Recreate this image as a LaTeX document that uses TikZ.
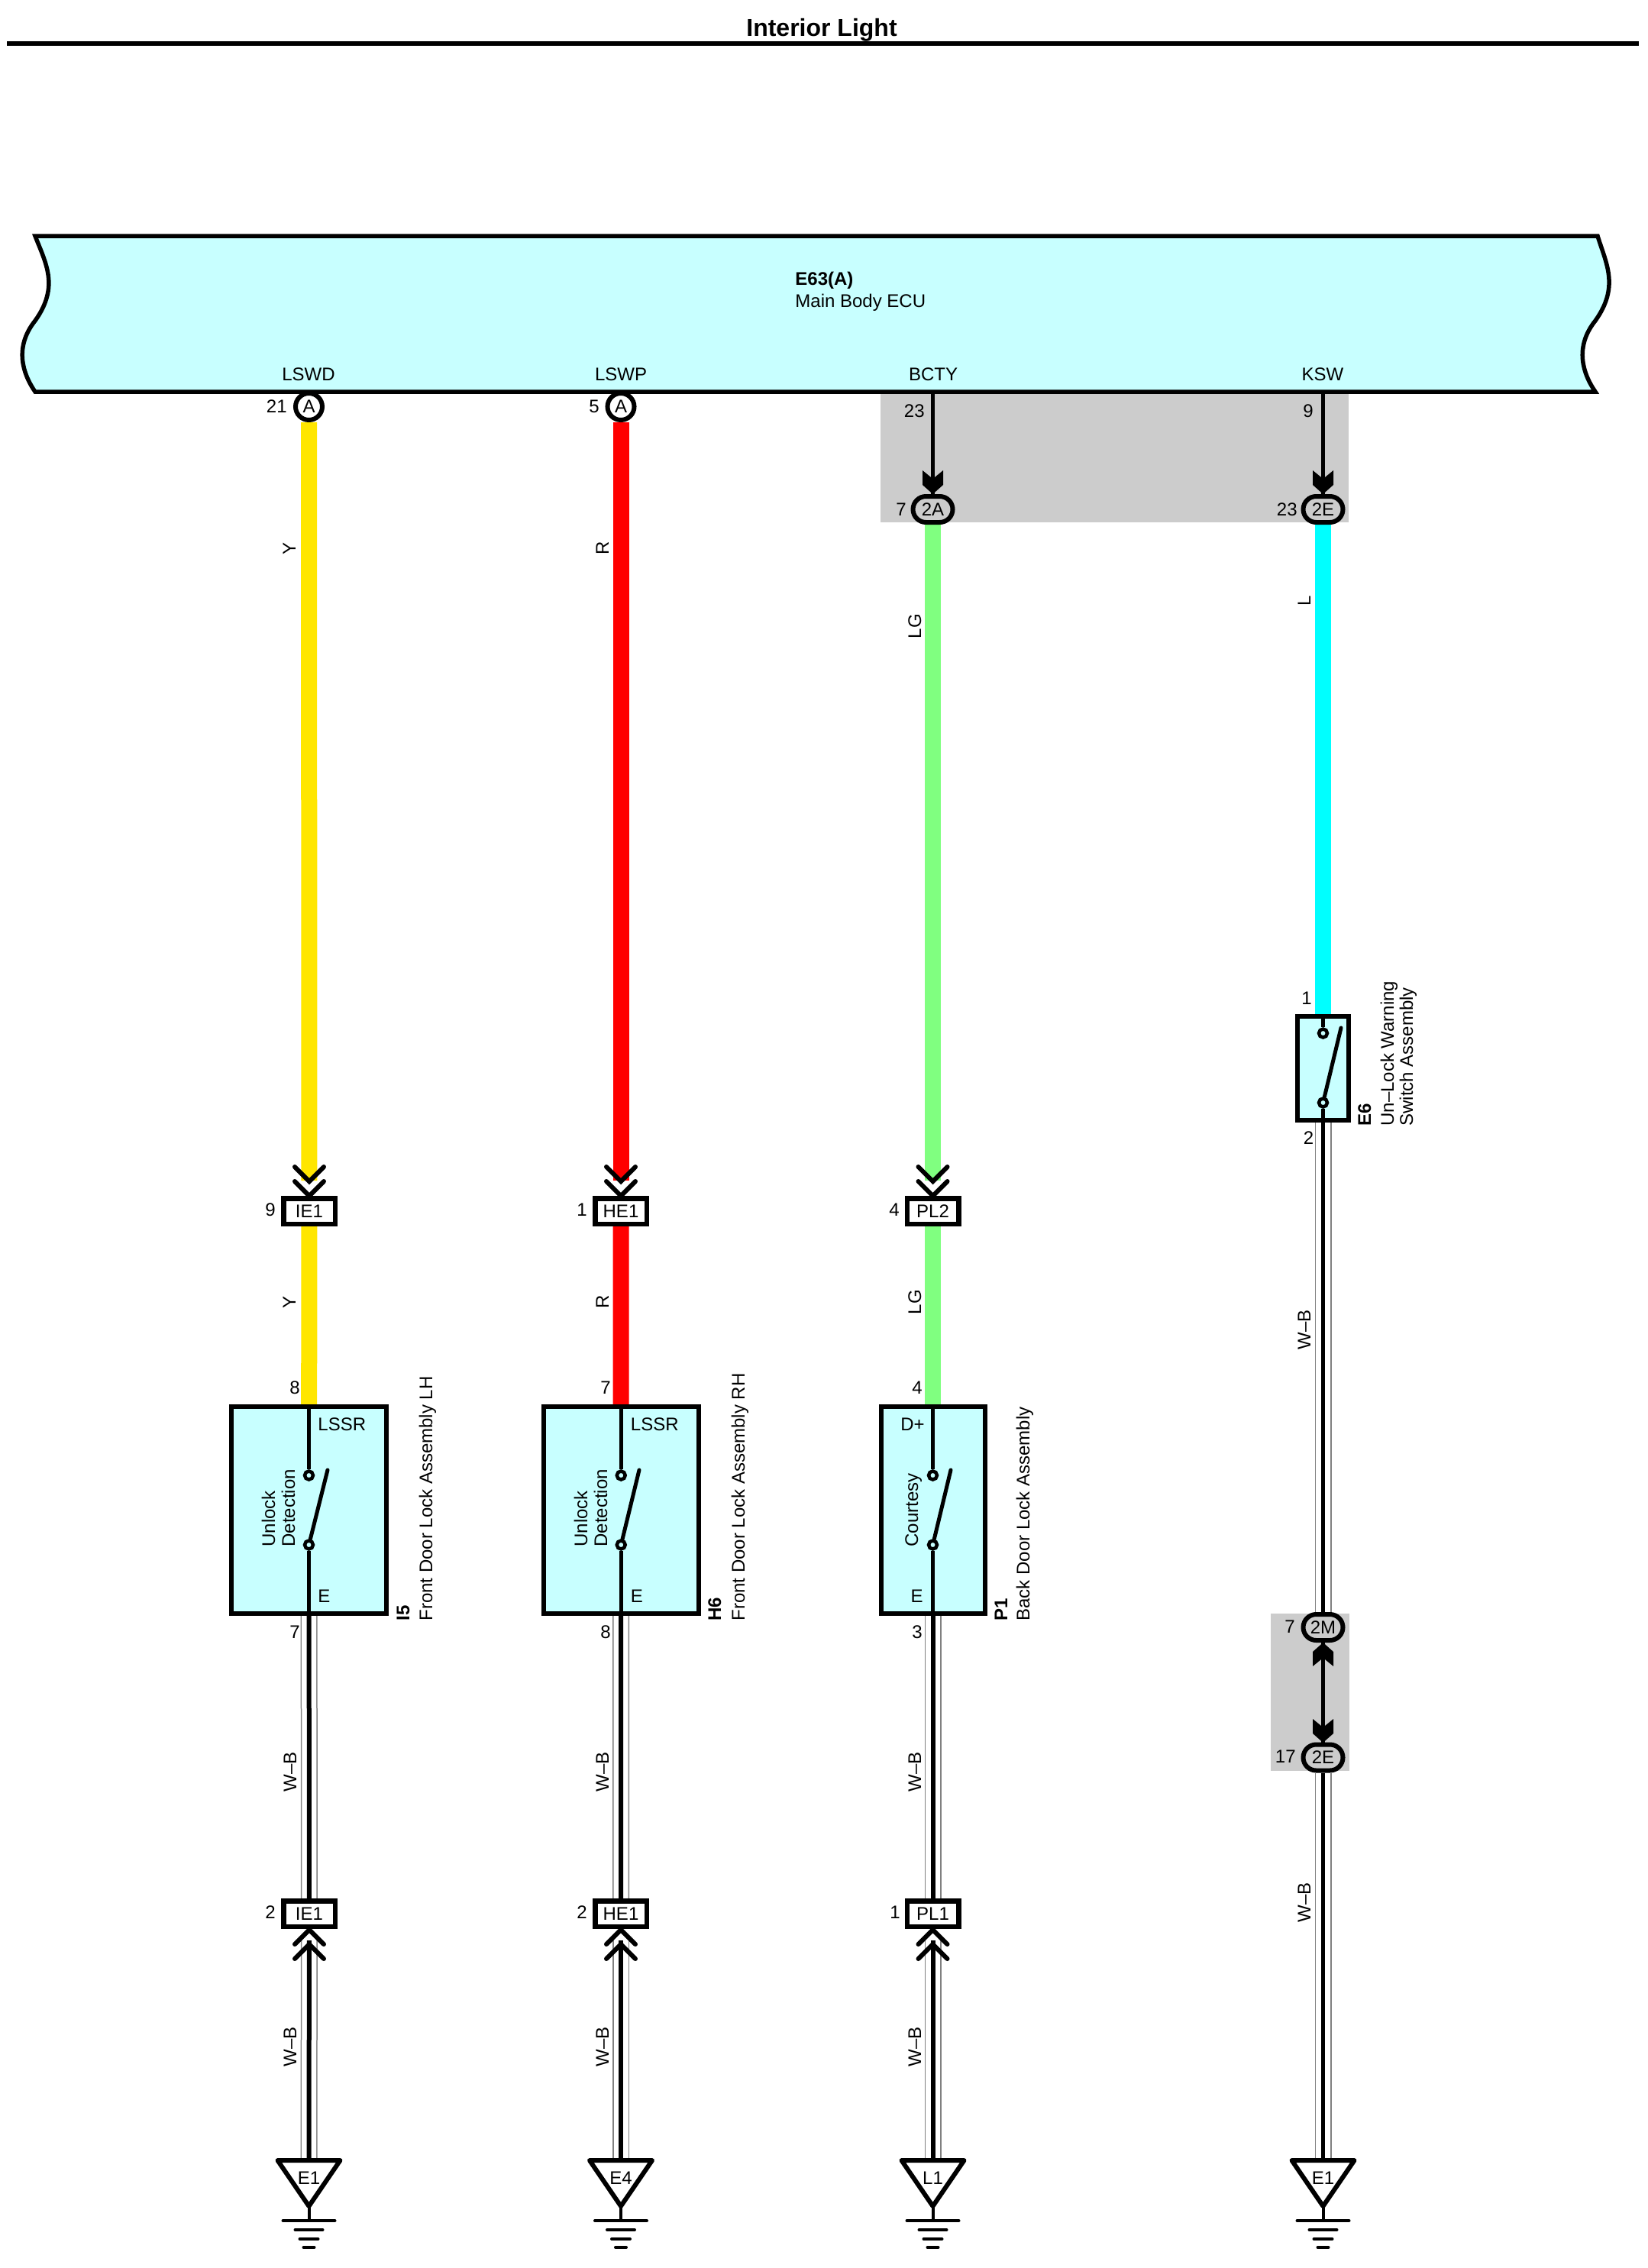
\documentclass[tikz,border=0pt]{standalone}
\usepackage{fontspec}
\setmainfont{Liberation Sans}
\usetikzlibrary{backgrounds}
\newlength{\du}
\setlength{\du}{0.5pt}
\definecolor{ecucolor}{rgb}{0.784, 1.000, 1.000}
\definecolor{ycolor}{rgb}{1.000, 0.902, 0.000}
\definecolor{rcolor}{rgb}{1.000, 0.000, 0.000}
\definecolor{lgcolor}{rgb}{0.502, 1.000, 0.502}
\definecolor{lcolor}{rgb}{0.000, 1.000, 1.000}
\definecolor{shadecolor}{rgb}{0.800, 0.800, 0.800}
\definecolor{wbcolor}{rgb}{0.500, 0.500, 0.500}
\tikzset{
  every node/.style={font=\fontsize{12pt}{14pt}\selectfont},
  lbl/.style={inner sep=0pt},
  pinnum/.style={lbl,anchor=east},
  vname/.style={lbl,rotate=90,anchor=base west},
  vmid/.style={lbl,rotate=90,anchor=base},
  pinconn/.style={draw,circle,fill=white,line width=6\du,minimum size=35\du,inner sep=0pt},
  ovalconn/.style={draw,rectangle,rounded corners=17\du,fill=shadecolor,line width=6\du,minimum width=52\du,minimum height=34\du,inner sep=0pt},
  jointconn/.style={draw,rectangle,fill=white,line width=6.5\du,minimum width=67.5\du,minimum height=33.5\du,inner sep=0pt},
  part/.style={draw,rectangle,fill=ecucolor,line width=6\du,minimum height=271\du,inner sep=0pt},
  contact/.style={draw,circle,fill=ecucolor,line width=4.5\du,minimum size=11\du,inner sep=0pt},
  thinwire/.style={line width=4.5\du},
  blade/.style={line width=5\du,line cap=round},
  colwire/.style={line width=21\du},
  wbwire/.style={draw=wbcolor,line width=22\du,postaction={draw=white,line width=19\du},postaction={draw=black,line width=#1\du}},
  wbwire/.default=6,
  % pics keep y upwards, so the backs of the tips have positive y
  chevrons/.pic={
    \draw[line width=6\du,line cap=round] (-19\du,19\du)--(0\du,0\du)--(19\du,19\du);
    \draw[line width=6\du,line cap=round] (-19\du,38\du)--(0\du,19\du)--(19\du,38\du);
  },
  solidtip/.pic={
    \fill (0\du,0\du)--(-13.5\du,12\du)--(-13.5\du,31\du)--(0\du,20\du)--(13.5\du,31\du)--(13.5\du,12\du)--cycle;
  },
  gndsym/.pic={
    \draw[line width=6\du,fill=white,line join=round] (-41\du,0\du)--(41\du,0\du)--(0\du,-60\du)--cycle;
    \draw[line width=4\du] (0\du,-60\du)--(0\du,-79\du);
    \draw[line width=4\du,line cap=round] (-34\du,-79\du)--(34\du,-79\du);
    \draw[line width=4\du,line cap=round] (-18\du,-91\du)--(18\du,-91\du);
    \draw[line width=4\du,line cap=round] (-12\du,-103\du)--(12\du,-103\du);
    \draw[line width=4\du,line cap=round] (-7\du,-114\du)--(7\du,-114\du);
  },
}
\begin{document}
\begin{tikzpicture}
\pgftransformxscale{1.000000}
\pgftransformyscale{-1.000000}
\useasboundingbox (0\du,0\du) rectangle (2157\du,2970\du);
% title
\node[lbl,font=\fontsize{16pt}{18pt}\selectfont\bfseries] (title) at (1076\du,39\du){Interior Light};
\draw[line width=6\du] (9\du,57\du)--(2146\du,57\du);
% connectors at the ECU
\node[pinconn] (lswdpin) at (404.5\du,532.5\du){A};
\node[pinconn] (lswppin) at (813\du,532.5\du){A};
\coordinate (bctypin) at (1221.5\du,513\du);
\coordinate (kswpin) at (1732.5\du,513\du);
\node[ovalconn] (bcty2a) at (1221.5\du,667\du){2A};
\node[ovalconn] (ksw2e) at (1732.5\du,667\du){2E};
% ECU
\draw[line width=5.5\du,fill=ecucolor] (46\du,309\du)--(2092\du,309\du)
  .. controls (2103\du,345\du) and (2121\du,375\du) .. (2089\du,420\du)
  .. controls (2061\du,455\du) and (2073\du,490\du) .. (2089\du,513\du)
  --(46\du,513\du)
  .. controls (30\du,490\du) and (18\du,455\du) .. (46\du,420\du)
  .. controls (78\du,375\du) and (60\du,345\du) .. (46\du,309\du)--cycle;
\node[lbl,anchor=base west,font=\fontsize{12pt}{14pt}\selectfont\bfseries] (econame) at (1041\du,373\du){E63(A)};
\node[lbl,anchor=base west] (ecutext) at (1041\du,402\du){Main Body ECU};
\node[lbl] (lswdtext) at (404\du,490\du){LSWD};
\node[lbl] (lswptext) at (813\du,490\du){LSWP};
\node[lbl] (bctytext) at (1222\du,490\du){BCTY};
\node[lbl] (ksxtext) at (1732\du,490\du){KSW};
\node[pinnum] (n21) at (376\du,532\du){21};
\node[pinnum] (n5) at (785\du,532\du){5};
\node[pinnum] (n23a) at (1211\du,538\du){23};
\node[pinnum] (n9a) at (1720\du,538\du){9};
\node[pinnum] (n7a) at (1187\du,667\du){7};
\node[pinnum] (n23b) at (1699\du,667\du){23};
% upper joints
\node[jointconn] (ie1a) at (405\du,1586\du){IE1};
\node[jointconn] (he1a) at (813\du,1586\du){HE1};
\node[jointconn] (pl2) at (1221.5\du,1586\du){PL2};
\node[pinnum] (n9b) at (361\du,1584\du){9};
\node[pinnum] (n1a) at (769\du,1584\du){1};
\node[pinnum] (n4a) at (1178\du,1584\du){4};
\pic at (405\du,1566\du) {chevrons};
\pic at (813\du,1566\du) {chevrons};
\pic at (1221.5\du,1566\du) {chevrons};
% part I5
\node[part,minimum width=203\du] (i5) at (404.5\du,1977.5\du){};
\node[contact] (i5a) at (404.5\du,1932\du){};
\node[contact] (i5b) at (404.5\du,2023\du){};
\coordinate (i5c) at (429\du,1925\du);
\draw[thinwire] (i5.north)--(i5a);
\draw[thinwire] (i5b)--(i5.south);
\draw[blade] (i5b)--(i5c);
\node[lbl,anchor=west] (i5top) at (416\du,1865\du){LSSR};
\node[lbl,anchor=west] (i5bot) at (416\du,2090\du){E};
\node[vname] (i5det1) at (360\du,2026\du){Unlock};
\node[vname] (i5det2) at (386\du,2026\du){Detection};
\node[vname,font=\fontsize{12pt}{14pt}\selectfont\bfseries] (i5name) at (536\du,2123\du){I5};
\node[vname] (i5text) at (566\du,2123\du){Front Door Lock Assembly LH};
\node[pinnum] (n8a) at (393\du,1817\du){8};
\node[pinnum] (n7b) at (393\du,2137\du){7};
% part H6
\node[part,minimum width=203\du] (h6) at (813.25\du,1977.5\du){};
\node[contact] (h6a) at (813.25\du,1932\du){};
\node[contact] (h6b) at (813.25\du,2023\du){};
\coordinate (h6c) at (837\du,1925\du);
\draw[thinwire] (h6.north)--(h6a);
\draw[thinwire] (h6b)--(h6.south);
\draw[blade] (h6b)--(h6c);
\node[lbl,anchor=west] (h6top) at (825.5\du,1865\du){LSSR};
\node[lbl,anchor=west] (h6bot) at (825.5\du,2090\du){E};
\node[vname] (h6det1) at (769\du,2026\du){Unlock};
\node[vname] (h6det2) at (795\du,2026\du){Detection};
\node[vname,font=\fontsize{12pt}{14pt}\selectfont\bfseries] (h6name) at (944\du,2123\du){H6};
\node[vname] (h6text) at (975\du,2123\du){Front Door Lock Assembly RH};
\node[pinnum] (n7c) at (800\du,1817\du){7};
\node[pinnum] (n8b) at (800\du,2137\du){8};
% part P1
\node[part,minimum width=136\du] (p1) at (1221.5\du,1977.5\du){};
\node[contact] (p1a) at (1221.5\du,1932\du){};
\node[contact] (p1b) at (1221.5\du,2023\du){};
\coordinate (p1c) at (1245\du,1925\du);
\draw[thinwire] (p1.north)--(p1a);
\draw[thinwire] (p1b)--(p1.south);
\draw[blade] (p1b)--(p1c);
\node[lbl,anchor=east] (p1top) at (1211\du,1865\du){D+};
\node[lbl,anchor=east] (p1bot) at (1209\du,2090\du){E};
\node[vname] (p1det) at (1202\du,2026\du){Courtesy};
\node[vname,font=\fontsize{12pt}{14pt}\selectfont\bfseries] (p1name) at (1319\du,2123\du){P1};
\node[vname] (p1text) at (1348\du,2123\du){Back Door Lock Assembly};
\node[pinnum] (n4b) at (1208\du,1817\du){4};
\node[pinnum] (n3) at (1208\du,2137\du){3};
% part E6
\node[part,minimum width=67\du,minimum height=136\du] (e6) at (1732.5\du,1399\du){};
\node[contact] (e6a) at (1732.5\du,1353\du){};
\node[contact] (e6b) at (1732.5\du,1444\du){};
\coordinate (e6c) at (1756\du,1346\du);
\draw[thinwire] (e6.north)--(e6a);
\draw[thinwire] (e6b)--(e6.south);
\draw[blade] (e6b)--(e6c);
\node[vname,font=\fontsize{12pt}{14pt}\selectfont\bfseries] (e6name) at (1795\du,1475\du){E6};
\node[vname] (e6text1) at (1825\du,1475\du){Un–Lock Warning};
\node[vname] (e6text2) at (1850\du,1475\du){Switch Assembly};
\node[pinnum] (n1b) at (1718\du,1307\du){1};
\node[pinnum] (n2a) at (1720.5\du,1490\du){2};
% joint between 2M and 2E
\node[ovalconn] (ksw2m) at (1732.5\du,2131\du){2M};
\node[ovalconn] (ksw2eb) at (1732.5\du,2301.5\du){2E};
\node[pinnum] (n7d) at (1696\du,2130\du){7};
\node[pinnum] (n17) at (1697\du,2300\du){17};
% lower joints
\node[jointconn] (ie1b) at (405\du,2506\du){IE1};
\node[jointconn] (he1b) at (813\du,2506\du){HE1};
\node[jointconn] (pl1) at (1221.5\du,2506\du){PL1};
\node[pinnum] (n2b) at (361\du,2504\du){2};
\node[pinnum] (n2c) at (769\du,2504\du){2};
\node[pinnum] (n1c) at (1179\du,2504\du){1};
\pic[yscale=-1] at (405\du,2527\du) {chevrons};
\pic[yscale=-1] at (813\du,2527\du) {chevrons};
\pic[yscale=-1] at (1221.5\du,2527\du) {chevrons};
% grounds
\coordinate (gnda) at (404.5\du,2829\du);
\coordinate (gndb) at (813\du,2829\du);
\coordinate (gndc) at (1221.5\du,2829\du);
\coordinate (gndd) at (1732.5\du,2829\du);
\pic at (gnda) {gndsym};
\pic at (gndb) {gndsym};
\pic at (gndc) {gndsym};
\pic at (gndd) {gndsym};
\node[lbl] (gndatext) at (404.5\du,2852\du){E1};
\node[lbl] (gndbtext) at (813\du,2852\du){E4};
\node[lbl] (gndctext) at (1221.5\du,2852\du){L1};
\node[lbl] (gnddtext) at (1732.5\du,2852\du){E1};
% wire colour names
\node[vmid] (ya) at (387\du,718\du){Y};
\node[vmid] (yb) at (387\du,1705\du){Y};
\node[vmid] (ra) at (797\du,718\du){R};
\node[vmid] (rb) at (797\du,1705\du){R};
\node[vmid] (lga) at (1206\du,820\du){LG};
\node[vmid] (lgb) at (1206\du,1705\du){LG};
\node[vmid] (la) at (1716\du,787\du){L};
\node[vmid] (wba) at (388\du,2320\du){W–B};
\node[vmid] (wbb) at (388\du,2680\du){W–B};
\node[vmid] (wbc) at (797\du,2320\du){W–B};
\node[vmid] (wbd) at (797\du,2680\du){W–B};
\node[vmid] (wbe) at (1206\du,2320\du){W–B};
\node[vmid] (wbf) at (1206\du,2680\du){W–B};
\node[vmid] (wbg) at (1716\du,1741\du){W–B};
\node[vmid] (wbh) at (1716\du,2491\du){W–B};
% solid tips in the shaded areas
\pic at (1221.5\du,647\du) {solidtip};
\pic at (1732.5\du,647\du) {solidtip};
\pic[yscale=-1] at (1732.5\du,2151\du) {solidtip};
\pic at (1732.5\du,2282\du) {solidtip};
\begin{pgfonlayer}{background}
\fill[shadecolor] (1153\du,513\du) rectangle (1766\du,684\du);
\fill[shadecolor] (1664\du,2113\du) rectangle (1766.5\du,2319\du);
\draw[thinwire] (bctypin)--(bcty2a);
\draw[thinwire] (kswpin)--(ksw2e);
\draw[thinwire] (ksw2m)--(ksw2eb);
\draw[colwire,draw=ycolor,shorten >=20\du] (lswdpin)--(ie1a);
\draw[colwire,draw=ycolor] (ie1a)--(i5);
\draw[colwire,draw=rcolor,shorten >=20\du] (lswppin)--(he1a);
\draw[colwire,draw=rcolor] (he1a)--(h6);
\draw[colwire,draw=lgcolor,shorten >=20\du] (bcty2a)--(pl2);
\draw[colwire,draw=lgcolor] (pl2)--(p1);
\draw[colwire,draw=lcolor] (ksw2e)--(e6);
\draw[wbwire] (i5)--(ie1b);
\draw[wbwire,shorten <=15\du] (ie1b)--(gnda);
\draw[wbwire] (h6)--(he1b);
\draw[wbwire,shorten <=15\du] (he1b)--(gndb);
\draw[wbwire] (p1)--(pl1);
\draw[wbwire,shorten <=15\du] (pl1)--(gndc);
\draw[wbwire=4.5] (e6)--(ksw2m);
\draw[wbwire=4.5] (ksw2eb)--(gndd);
\end{pgfonlayer}
\end{tikzpicture}
\end{document}
